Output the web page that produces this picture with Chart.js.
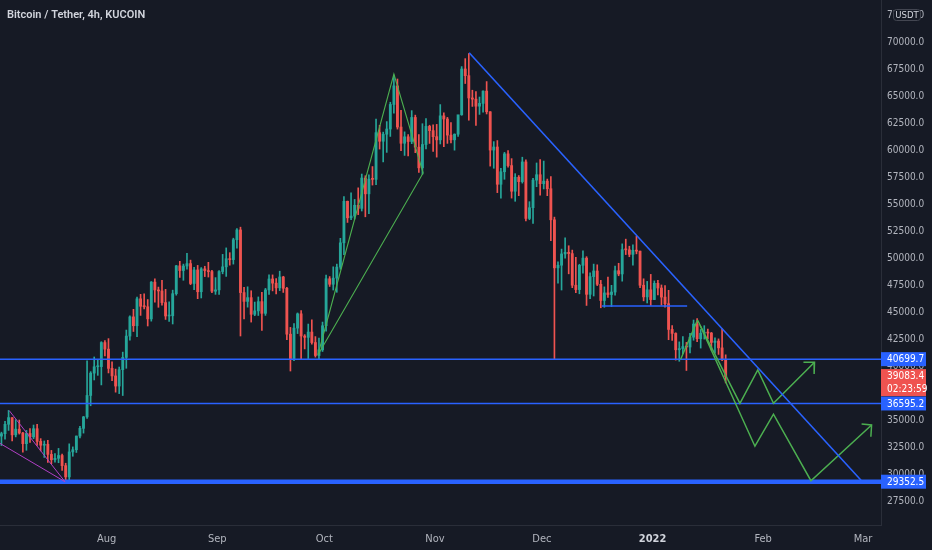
<!DOCTYPE html>
<html>
<head>
<meta charset="utf-8">
<script src="https://cdn.jsdelivr.net/npm/chart.js@4.4.1/dist/chart.umd.min.js"></script>
<style>
  html, body { margin: 0; padding: 0; background: #161a25; }
  canvas { display: block; }
</style>
</head>
<body>
<canvas id="btcChart" width="932" height="550"></canvas>
<script>
// daily candles, BTC/USDT, from 1 Jul 2021 (day 0) to 21 Jan 2022
var firstOpen = 35040;
var closes = [
  33573,33800,34670,35287,33690,34220,33860,32875,33815,33502,34259,33086,32730,32820,31880,31383,31520,31778,30839,29796,32110,32313,33581,34292,35350,37337,39406,39995,40008,42235,41626,
  39846,39147,38207,39723,40862,42836,44614,43792,46285,45596,45551,44428,47833,47109,47015,45936,44695,44715,46760,49339,48905,49321,49546,47706,48960,46942,49058,48897,48806,46991,47112,
  48811,49246,49999,49915,51756,52663,46863,46048,46395,44851,45171,46026,44941,47111,48122,47738,47300,48307,47260,43012,40693,43574,44896,42840,42717,43208,42236,41035,41564,43791,
  48142,47634,48201,49224,51471,55316,53785,53951,54949,54660,57471,56005,57367,57347,61672,60875,61528,62010,64280,66002,62193,60689,61286,60853,63078,60328,58413,60575,62253,61859,61300,
  61004,63227,62935,61444,61007,61527,63327,67566,66947,64882,64775,64122,64380,65519,63606,60058,60344,56891,58052,59707,58622,56247,57541,57138,58960,53726,54721,57274,57776,56950,
  57184,56480,53601,49152,49397,50441,50589,50471,47545,47140,49389,50053,46702,48343,48864,47632,46131,46834,46681,46914,48889,48588,50838,50820,50400,50775,50701,47543,46464,47120,46216,
  47722,47286,46446,45832,43451,43082,41566,41680,41864,41822,42735,43949,42591,43099,43177,43113,42250,42375,41744,40680,39083
];
var highs = [
  35040,33939,34950,35950,35290,35100,35060,33915,34100,34260,34600,34670,33340,33125,33185,32250,31950,32435,31900,31063,32858,32576,33581,34490,35398,40550,39542,40900,40640,42316,42414,
  42600,40444,39780,39969,41350,43392,44700,45310,46454,46700,46743,46218,47886,48144,47372,47998,47160,46000,47088,49382,49757,49500,50500,49870,49200,49380,49178,49300,49666,48924,48248,
  48890,50400,51000,50558,51900,52780,52920,47340,47399,47033,45987,46460,46880,47250,48500,48500,48150,48843,48373,47360,43639,44000,44978,45200,42970,43950,44350,42788,42650,44132,
  48495,48345,49250,49500,51886,55750,55339,56100,55489,56561,57839,57680,57777,58532,62933,62350,61720,62695,64486,67000,66639,63732,61747,61500,63710,63293,61496,62499,62980,62359,62405,
  62437,64270,63500,63086,62595,61560,63286,67789,68524,69000,65600,65473,64971,65550,66401,63617,60840,60940,58366,59845,60000,59266,57875,57700,59398,59150,55280,57445,58865,59176,
  59041,57374,57600,53850,49699,50891,51936,51200,50797,50125,49485,50724,50189,48700,49500,49436,47995,47392,48300,47537,49328,49576,51375,51810,51156,51280,52088,50704,48139,47900,48548,
  47944,47990,47570,47505,47070,43816,43145,42300,42786,42248,43100,44322,44459,43448,43800,43479,43176,42664,42576,43505,41100
];
var lows = [
  32711,32700,33300,34100,33125,33500,33760,32078,32260,33000,33330,32700,32200,31600,31130,31020,31165,31110,30408,29352,29482,31708,32057,33402,33851,35205,36383,38772,39200,38313,41000,
  39422,38700,37642,37508,37332,39853,42446,43261,42779,44750,45341,43770,44218,45971,45500,45700,44376,44203,43956,46622,48273,48003,49030,47600,47126,46300,46363,48345,48300,46853,46698,
  46700,48600,48360,49400,49500,50969,42843,44413,45514,44132,44722,44742,43370,44750,46700,47020,46750,47045,46876,42500,39600,40565,43069,40675,41646,40750,42098,40888,40753,41410,
  43283,47430,47100,46891,49022,50382,53357,53617,53661,54080,54415,53879,54167,56818,56850,60150,58963,59844,61322,63482,62000,60000,59562,59510,60650,59817,58000,57820,60174,60673,59945,
  59405,60624,60382,60677,60721,60050,61320,63279,66222,62822,64100,62333,63360,63577,63400,58575,58373,56118,55600,57353,58470,55610,55317,55837,57000,53500,53610,53256,56666,55875,
  56458,55837,51680,40700,47727,47100,50039,48600,47320,46852,46751,48650,45672,46290,46547,47511,45456,45500,46406,45558,46630,48421,47920,50384,50182,49412,50449,47313,46096,45900,45678,
  46208,46654,45696,45502,42500,42430,40610,40501,41200,39650,41268,42450,42311,41725,42555,42581,41540,41250,41138,40553,38500
];

// axis ticks
var monthDays = [31, 62, 92, 123, 153, 184, 215, 243];
var monthLabels = ['Aug', 'Sep', 'Oct', 'Nov', 'Dec', '2022', 'Feb', 'Mar'];
var priceTicks = [27500, 30000, 32500, 35000, 37500, 40000, 42500, 45000, 47500, 50000, 52500, 55000, 57500, 60000, 62500, 65000, 67500, 70000, 72500];

// drawings, as [day, price]
var levels = [40699.7, 36595.2, 29352.5];
var lastPrice = 39083.4;
var countdown = '02:23:59';
var trendLine = [[132.6, 69070], [242.7, 29400]];
var supportLine = [[169.8, 45620], [193.7, 45620]];
var patternXABC = [[90.2, 41083], [111.5, 67102], [119.7, 57935], [90.2, 41083]];
var wedgeTop = [[3.7, 35926], [19.3, 29352]];
var wedgeBottom = [[1.09, 32898], [19.3, 29352]];
var smallLeg = [[191.9, 40685], [196.6, 44324]];
var pathA = [[196.6, 44324], [208.5, 36611], [213.5, 39694], [217.9, 36611], [229.4, 40407]];
var arrowA = [[226.3, 40407], [229.4, 40407], [229.3, 39324]];
var pathB = [[197.3, 43843], [212.7, 32639], [217.9, 35602], [228.4, 29445], [245.4, 34602]];
var arrowB = [[242.6, 34694], [245.4, 34602], [245.2, 33519]];

var X_MIN = 1.093, X_MAX = 248.04;
var Y_MIN = 25343, Y_MAX = 73954;
var UP = '#26a69a', DOWN = '#ef5350';
var BLUE = '#2962ff', GREEN = '#4caf50', PURPLE = '#b03fc4';
var BG = '#161a25';
var AXIS_FONT = "'DejaVu Sans Condensed', 'DejaVu Sans', sans-serif";

var opens = closes.map(function(c, i) { return i === 0 ? firstOpen : closes[i - 1]; });
var wicks = [], bodies = [], colors = [];
for (var i = 0; i < closes.length; i++) {
  wicks.push({ x: i + 0.5, y: [lows[i], highs[i]] });
  bodies.push({ x: i + 0.5, y: [opens[i], closes[i]] });
  colors.push(closes[i] >= opens[i] ? UP : DOWN);
}

function pts(arr) { return arr.map(function(p) { return { x: p[0], y: p[1] }; }); }
function lineSet(arr, color, width) {
  return { type: 'line', data: pts(arr), borderColor: color, borderWidth: width, pointRadius: 0, fill: false, tension: 0, order: 1, clip: false };
}

var datasets = [
  lineSet(trendLine, BLUE, 1.6),
  lineSet(supportLine, BLUE, 1.6),
  lineSet(patternXABC, GREEN, 1.1),
  lineSet(wedgeTop, PURPLE, 1),
  lineSet(wedgeBottom, PURPLE, 1),
  lineSet(smallLeg, GREEN, 1.4),
  lineSet(pathA, GREEN, 1.5),
  lineSet(arrowA, GREEN, 1.5),
  lineSet(pathB, GREEN, 1.5),
  lineSet(arrowB, GREEN, 1.5)
];
levels.forEach(function(lv, k) {
  var ds = lineSet([[X_MIN, lv], [X_MAX, lv]], BLUE, k === levels.length - 1 ? 4.5 : 1.5);
  ds.order = 2;
  datasets.push(ds);
});
datasets.push({ type: 'bar', data: bodies, backgroundColor: colors, barThickness: 2.2, minBarLength: 1, grouped: false, borderWidth: 0, order: 5 });
datasets.push({ type: 'bar', data: wicks, backgroundColor: colors, barThickness: 1, grouped: false, borderWidth: 0, order: 6 });

var overlay = {
  id: 'overlay',
  beforeDraw: function(chart) {
    var c = chart.ctx;
    c.save();
    c.fillStyle = BG;
    c.fillRect(0, 0, chart.width, chart.height);
    c.restore();
  },
  afterDraw: function(chart) {
    var c = chart.ctx, ys = chart.scales.y, area = chart.chartArea;
    c.save();
    c.font = '600 11px Roboto, sans-serif';
    c.fillStyle = '#d1d4dc';
    c.textBaseline = 'middle';
    c.textAlign = 'left';
    c.fillText('Bitcoin / Tether, 4h, KUCOIN', 7, 15);

    c.font = '10px ' + AXIS_FONT;
    levels.forEach(function(lv) {
      var py = ys.getPixelForValue(lv);
      c.fillStyle = BLUE;
      c.fillRect(area.right, py - 7, 45, 14);
      c.fillStyle = '#ffffff';
      c.fillText(lv.toFixed(1), area.right + 6, py + 0.5);
    });
    var lp = ys.getPixelForValue(lastPrice);
    c.fillStyle = DOWN;
    c.fillRect(area.right, lp - 7.5, 45, 27);
    c.fillStyle = '#ffffff';
    c.fillText(lastPrice.toFixed(1), area.right + 6, lp);
    c.fillText(countdown, area.right + 6, lp + 12.5);

    // currency box
    c.fillStyle = BG;
    c.strokeStyle = '#434651';
    c.lineWidth = 1;
    c.beginPath();
    c.roundRect(893.5, 9.5, 27, 11, 3);
    c.fill();
    c.stroke();
    c.fillStyle = '#d1d4dc';
    c.font = '9.5px ' + AXIS_FONT;
    c.textAlign = 'center';
    c.fillText('USDT', 907, 15.5);
    c.restore();
  }
};

var ctx = document.getElementById('btcChart');
var btcChart = new Chart(ctx, {
  type: 'bar',
  data: { datasets: datasets },
  options: {
    responsive: false,
    animation: false,
    events: [],
    layout: { padding: 0 },
    plugins: { legend: { display: false }, tooltip: { enabled: false } },
    scales: {
      x: {
        type: 'linear',
        min: X_MIN,
        max: X_MAX,
        offset: false,
        grid: { display: false, drawTicks: false },
        border: { display: true, color: '#2a2e39' },
        afterBuildTicks: function(s) { s.ticks = monthDays.map(function(v) { return { value: v }; }); },
        afterFit: function(s) { s.height = 25; s.paddingLeft = 0; s.paddingRight = 0; },
        ticks: {
          autoSkip: false,
          maxRotation: 0,
          padding: 8,
          color: function(c) { return c.index === 5 ? '#d1d4dc' : '#b2b5be'; },
          font: function(c) { return { family: AXIS_FONT, size: 11, weight: c.index === 5 ? 'bold' : 'normal' }; },
          callback: function(v, idx) { return monthLabels[idx]; }
        }
      },
      y: {
        type: 'linear',
        position: 'right',
        min: Y_MIN,
        max: Y_MAX,
        grid: { display: false, drawTicks: false },
        border: { display: true, color: '#2a2e39' },
        afterBuildTicks: function(s) { s.ticks = priceTicks.map(function(v) { return { value: v }; }); },
        afterFit: function(s) { s.width = 51; s.paddingTop = 0; s.paddingBottom = 0; },
        ticks: {
          padding: 6,
          color: '#b2b5be',
          font: { family: AXIS_FONT, size: 10 },
          callback: function(v) { return Number(v).toFixed(1); }
        }
      }
    }
  },
  plugins: [overlay]
});
</script>
</body>
</html>
